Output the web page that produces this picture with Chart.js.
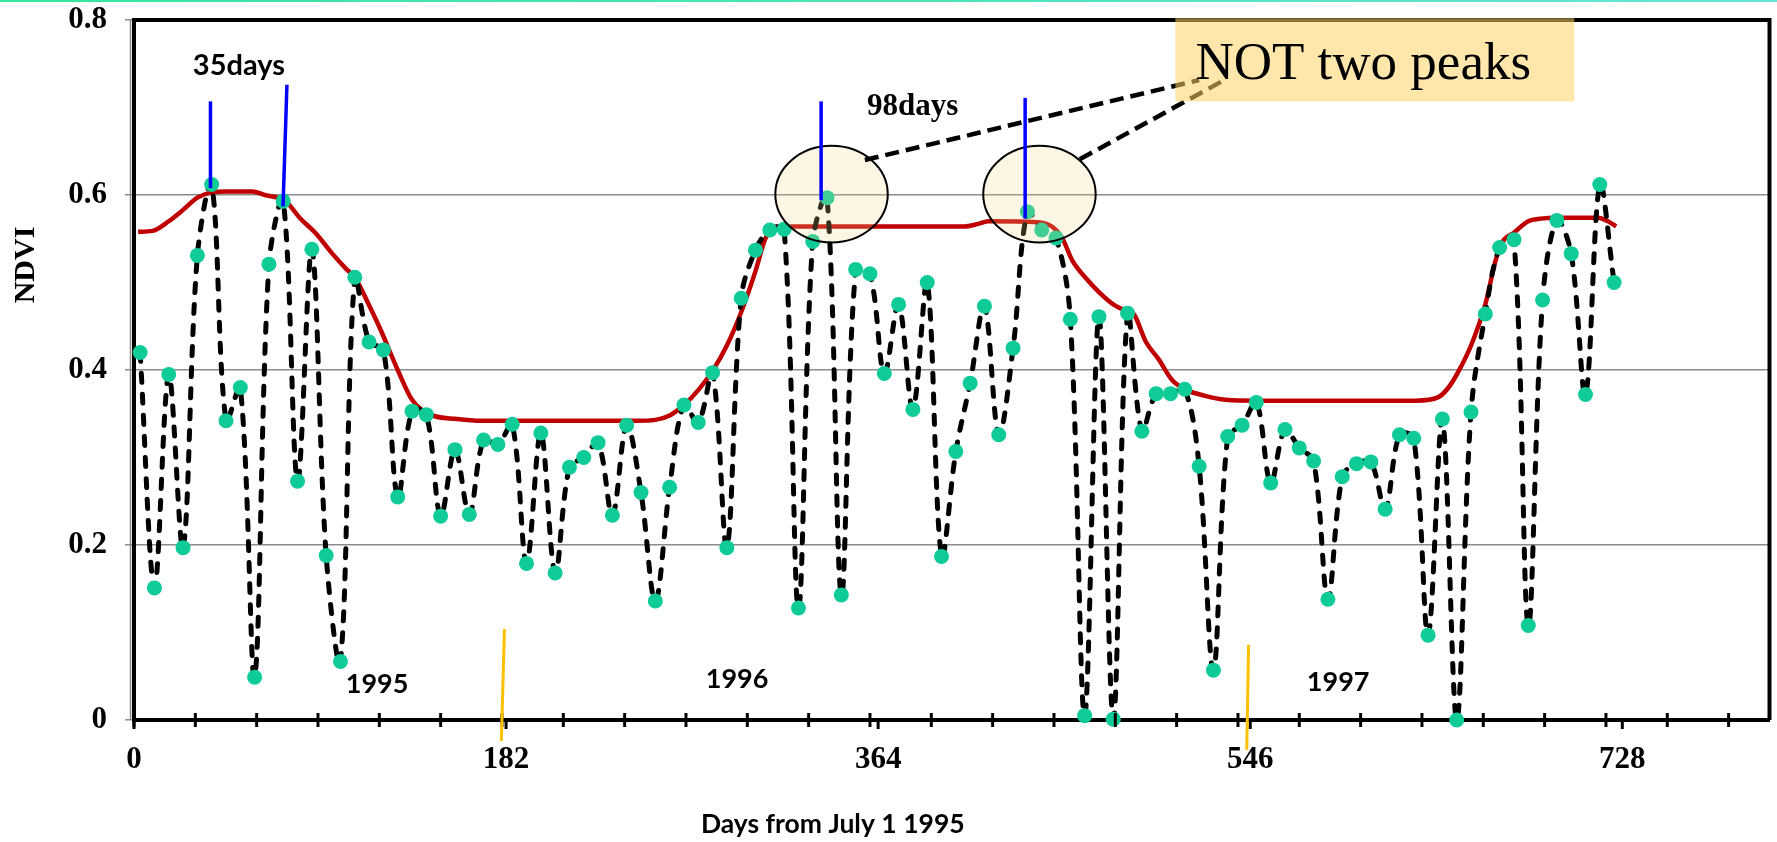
<!DOCTYPE html>
<html>
<head>
<meta charset="utf-8">
<script src="https://cdn.jsdelivr.net/npm/chart.js@4.4.1/dist/chart.umd.min.js"></script>
<style>
  html, body { margin: 0; padding: 0; background: #fff; }
  #topbar { position: absolute; left: 0; top: 0; width: 1777px; height: 2px;
            background: linear-gradient(to right, #33e69c, #66e3d6); }
  canvas { display: block; }
</style>
</head>
<body>
<div id="topbar"></div>
<canvas id="chart" width="1777" height="842"></canvas>
<script>
// weekly NDVI samples, days from July 1 1995
const days = [3, 10, 17, 24, 31, 38, 45, 52, 59, 66, 73, 80, 87, 94, 101, 108, 115,
  122, 129, 136, 143, 150, 157, 164, 171, 178, 185, 192, 199, 206, 213, 220, 227, 234, 241,
  248, 255, 262, 269, 276, 283, 290, 297, 304, 311, 318, 325, 332, 339, 346, 353, 360, 367,
  374, 381, 388, 395, 402, 409, 416, 423, 430, 437, 444, 451, 458, 465, 472, 479, 486, 493,
  500, 507, 514, 521, 528, 535, 542, 549, 556, 563, 570, 577, 584, 591, 598, 605, 612, 619,
  626, 633, 640, 647, 654, 661, 668, 675, 682, 689, 696, 703, 710, 717, 724];

const ndvi = [0.420, 0.151, 0.395, 0.197, 0.531, 0.612, 0.342, 0.380, 0.049, 0.521, 0.593, 0.273, 0.538, 0.188, 0.067, 0.506, 0.432,
  0.423, 0.255, 0.353, 0.349, 0.233, 0.309, 0.235, 0.320, 0.315, 0.338, 0.179, 0.328, 0.168, 0.289, 0.300, 0.317, 0.234, 0.337,
  0.260, 0.136, 0.266, 0.360, 0.340, 0.397, 0.197, 0.482, 0.537, 0.560, 0.561, 0.128, 0.547, 0.597, 0.143, 0.515, 0.510, 0.396,
  0.475, 0.355, 0.500, 0.187, 0.307, 0.385, 0.473, 0.326, 0.425, 0.581, 0.560, 0.551, 0.458, 0.005, 0.461, 0.001, 0.465, 0.330,
  0.373, 0.373, 0.378, 0.290, 0.057, 0.324, 0.337, 0.363, 0.271, 0.332, 0.311, 0.296, 0.138, 0.278, 0.293, 0.295, 0.241, 0.326,
  0.322, 0.097, 0.344, 0.000, 0.352, 0.464, 0.540, 0.549, 0.108, 0.480, 0.571, 0.533, 0.372, 0.612, 0.500];

// fitted (smoothed) curve
const fitDays = [2, 9, 17, 24, 31, 38, 45, 58, 64, 70, 75, 81, 89, 97, 104, 108, 115, 121, 129, 136, 145, 158, 170,
  246, 255, 262, 269, 276, 283, 290, 297, 304, 309, 314, 322, 406, 413, 418, 442, 449, 454, 459, 466, 472, 479,
  486, 489, 495, 501, 508, 515, 523, 534, 550, 627, 638, 643, 648, 654, 661, 666, 669, 675, 682, 688, 696, 716, 721, 725];
const fitNdvi = [0.558, 0.559, 0.570, 0.583, 0.597, 0.603, 0.604, 0.604, 0.600, 0.597, 0.591, 0.574, 0.556, 0.533, 0.515, 0.506, 0.474, 0.444, 0.400, 0.366, 0.349, 0.344, 0.342,
  0.342, 0.343, 0.348, 0.360, 0.377, 0.399, 0.428, 0.466, 0.513, 0.551, 0.564, 0.564, 0.564, 0.567, 0.570, 0.569, 0.564, 0.551, 0.525, 0.504, 0.489, 0.475,
  0.467, 0.464, 0.432, 0.413, 0.388, 0.377, 0.371, 0.366, 0.365, 0.365, 0.369, 0.380, 0.399, 0.428, 0.475, 0.525, 0.545, 0.557, 0.570, 0.573, 0.574, 0.574, 0.570, 0.564];

const xLabelTicks = [0, 182, 364, 546, 728];
const xMinorTicks = [0, 30, 60, 90, 120, 150, 180, 210, 240, 270, 300, 330, 360, 390, 420, 450, 480,
  510, 540, 570, 600, 630, 660, 690, 720, 750, 780];
const yTicks = [0, 0.2, 0.4, 0.6, 0.8];

const SERIF = '"Liberation Serif", "Times New Roman", serif';
const SANS = 'Lato, "Open Sans", sans-serif';

// annotation layout (in axis units)
const blueMarks = [[37.4, 0.707, 37.4, 0.608], [74.8, 0.726, 72.9, 0.587], [336.1, 0.707, 336.1, 0.594], [435.9, 0.711, 435.9, 0.573]];
const orangeMarks = [[181.2, 0.104, 179.7, -0.024], [545.2, 0.086, 544.3, -0.034]];
const peakCircles = [[341.2, 0.601], [442.9, 0.601]];
const calloutLines = [[357.5, 0.640, 521.0, 0.7314], [462.6, 0.6408, 533.3, 0.7314]];

const frameAndNotes = {
  id: 'frameAndNotes',
  afterDraw(chart) {
    const { ctx, chartArea: a } = chart;
    const x = chart.scales.x, y = chart.scales.y;
    const px = v => x.getPixelForValue(v);
    const py = v => y.getPixelForValue(v);
    ctx.save();

    // second (grey) line of the y axis
    ctx.strokeStyle = '#8c8c8c';
    ctx.lineWidth = 1.5;
    ctx.beginPath();
    ctx.moveTo(a.left - 3.5, a.top);
    ctx.lineTo(a.left - 3.5, a.bottom);
    ctx.stroke();

    // minor/major tick marks on the x axis
    ctx.strokeStyle = '#000';
    ctx.lineWidth = 3;
    xMinorTicks.forEach(d => {
      ctx.beginPath();
      ctx.moveTo(px(d), a.bottom - 7);
      ctx.lineTo(px(d), a.bottom + 7);
      ctx.stroke();
    });
    xLabelTicks.forEach(d => {
      ctx.beginPath();
      ctx.moveTo(px(d), a.bottom);
      ctx.lineTo(px(d), a.bottom + 9);
      ctx.stroke();
    });

    // frame top and right
    ctx.lineWidth = 4;
    ctx.beginPath();
    ctx.moveTo(a.left, a.top);
    ctx.lineTo(a.right, a.top);
    ctx.lineTo(a.right, a.bottom);
    ctx.stroke();

    // circles round the two "peaks"
    peakCircles.forEach(([d, v]) => {
      const rx = px(d + 27.5) - px(d);
      const ry = py(v - 0.0552) - py(v);
      ctx.beginPath();
      ctx.ellipse(px(d), py(v), rx, ry, 0, 0, Math.PI * 2);
      ctx.fillStyle = 'rgba(248, 215, 130, 0.22)';
      ctx.fill();
      ctx.lineWidth = 2;
      ctx.strokeStyle = '#000';
      ctx.stroke();
    });

    // blue peak markers
    ctx.strokeStyle = '#0000ff';
    ctx.lineWidth = 3.5;
    blueMarks.forEach(([d1, v1, d2, v2]) => {
      ctx.beginPath();
      ctx.moveTo(px(d1), py(v1));
      ctx.lineTo(px(d2), py(v2));
      ctx.stroke();
    });

    // orange year boundaries
    ctx.strokeStyle = '#ffc000';
    ctx.lineWidth = 3;
    orangeMarks.forEach(([d1, v1, d2, v2]) => {
      ctx.beginPath();
      ctx.moveTo(px(d1), py(v1));
      ctx.lineTo(px(d2), py(v2));
      ctx.stroke();
    });

    // dashed callouts
    ctx.strokeStyle = '#000';
    ctx.lineWidth = 4.5;
    ctx.setLineDash([14, 7]);
    calloutLines.forEach(([d1, v1, d2, v2]) => {
      ctx.beginPath();
      ctx.moveTo(px(d1), py(v1));
      ctx.lineTo(px(d2), py(v2));
      ctx.stroke();
    });
    ctx.setLineDash([]);

    // note box
    ctx.fillStyle = 'rgba(255, 210, 100, 0.55)';
    ctx.fillRect(px(509.4), py(0.802), px(704.5) - px(509.4), py(0.707) - py(0.802));
    ctx.fillStyle = '#000';
    ctx.font = '53px ' + SERIF;
    ctx.textAlign = 'left';
    ctx.textBaseline = 'alphabetic';
    ctx.fillText('NOT two peaks', px(519.2), py(0.733));

    // labels
    ctx.textAlign = 'center';
    ctx.font = 'bold 29px ' + SANS;
    ctx.fillText('35days', px(51.3), py(0.737));
    ctx.font = 'bold 27px ' + SANS;
    ctx.fillText('1995', px(118.9), py(0.0305));
    ctx.fillText('1996', px(295), py(0.0362));
    ctx.fillText('1997', px(589), py(0.0335));
    ctx.font = 'bold 31px ' + SERIF;
    ctx.fillText('98days', px(380.9), py(0.6914));

    // axis titles
    ctx.font = 'bold 26.5px ' + SANS;
    ctx.fillText('Days from July 1 1995', px(341.8), py(-0.1295));
    ctx.save();
    ctx.translate(px(-52.8), py(0.52));
    ctx.rotate(-Math.PI / 2);
    ctx.font = 'bold 30px ' + SERIF;
    ctx.textBaseline = 'middle';
    ctx.fillText('NDVI', 0, 0);
    ctx.restore();

    ctx.restore();
  }
};

new Chart(document.getElementById('chart'), {
  type: 'line',
  data: {
    datasets: [
      {
        label: 'NDVI',
        data: days.map((d, i) => ({ x: d, y: ndvi[i] })),
        borderColor: '#000',
        borderWidth: 5,
        borderDash: [9, 12],
        borderCapStyle: 'round',
        tension: 0.35,
        pointRadius: 7.5,
        pointHoverRadius: 7.5,
        pointBackgroundColor: '#0fcb98',
        pointBorderWidth: 0,
        clip: 12,
        order: 1
      },
      {
        label: 'fit',
        data: fitDays.map((d, i) => ({ x: d, y: fitNdvi[i] })),
        borderColor: '#c00000',
        borderWidth: 4.5,
        cubicInterpolationMode: 'monotone',
        pointRadius: 0,
        order: 2
      }
    ]
  },
  options: {
    responsive: false,
    animation: false,
    devicePixelRatio: 1,
    layout: { padding: { top: 20, right: 5, left: 0, bottom: 0 } },
    plugins: { legend: { display: false }, tooltip: { enabled: false } },
    scales: {
      x: {
        type: 'linear',
        min: 0,
        max: 800,
        afterBuildTicks: s => { s.ticks = xLabelTicks.map(v => ({ value: v })); },
        afterFit: s => { s.height = 122; s.paddingLeft = 0; s.paddingRight = 0; },
        grid: { display: false, drawTicks: false },
        border: { color: '#000', width: 4 },
        ticks: { padding: 21, color: '#000', font: { family: SERIF, size: 31, weight: 'bold' } }
      },
      y: {
        min: 0,
        max: 0.8,
        afterBuildTicks: s => { s.ticks = yTicks.map(v => ({ value: v })); },
        afterFit: s => { s.width = 134; s.paddingTop = 0; s.paddingBottom = 0; },
        grid: {
          color: c => (c.tick && (c.tick.value === 0 || c.tick.value === 0.8)) ? 'rgba(0,0,0,0)' : '#8c8c8c',
          lineWidth: 1.5,
          tickColor: '#8c8c8c',
          tickLength: 9
        },
        border: { color: '#000', width: 4 },
        ticks: { padding: 18, color: '#000', font: { family: SERIF, size: 31, weight: 'bold' } }
      }
    }
  },
  plugins: [frameAndNotes]
});
</script>
</body>
</html>
